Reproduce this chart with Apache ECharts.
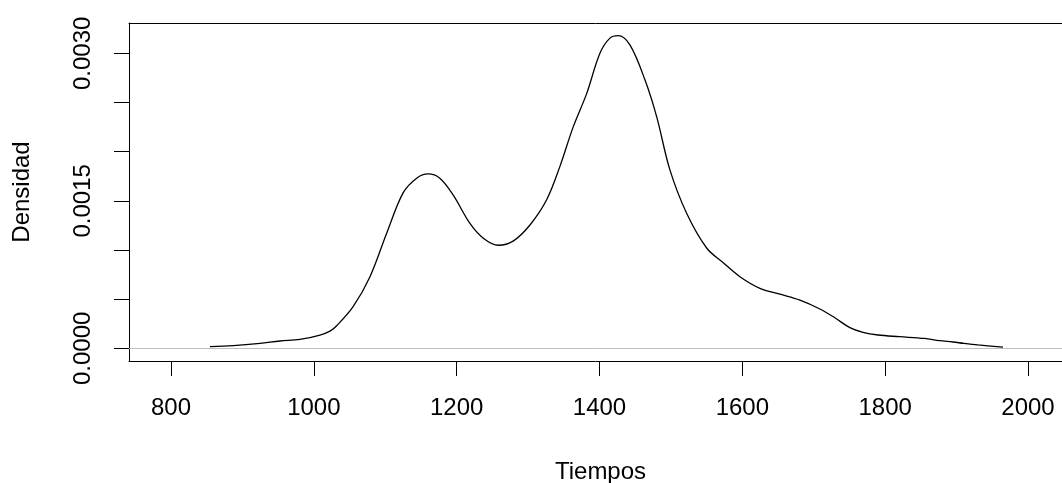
<!DOCTYPE html>
<html>
<head>
<meta charset="utf-8">
<script src="https://cdn.jsdelivr.net/npm/echarts@6/dist/echarts.min.js"></script>
<style>
html,body{margin:0;padding:0;background:#fff;}
#c{width:1062px;height:483px;}
</style>
</head>
<body>
<div id="c"></div>
<script>
// Data
const tiempos = [854.6, 887, 924.6, 952.6, 980.6, 1008.6, 1022.6, 1032, 1055, 1078.6, 1102, 1125, 1144, 1160, 1176.4, 1195, 1218.6, 1237.3, 1258.3, 1279, 1302.6, 1326, 1344.6, 1363.3, 1382, 1400.6, 1414.6, 1426.3, 1442.6, 1463.6, 1480, 1498.6, 1522, 1550, 1573.3, 1596.6, 1624.6, 1652.6, 1680.6, 1708.6, 1729.6, 1750.6, 1769, 1790, 1820, 1855, 1876, 1895, 1910, 1930, 1965];
const densidad = [0.000016, 0.000027, 0.00005, 0.000074, 0.00009, 0.000135, 0.000175, 0.00023, 0.000423, 0.000728, 0.00117, 0.00158, 0.00173, 0.001773, 0.00173, 0.00156, 0.00127, 0.00112, 0.001048, 0.00109, 0.001254, 0.00151, 0.00185, 0.002254, 0.00259, 0.0030, 0.003154, 0.00318, 0.003085, 0.00273, 0.002356, 0.001814, 0.001373, 0.00102, 0.00087, 0.000728, 0.00061, 0.00055, 0.00049, 0.0004, 0.00031, 0.00021, 0.000162, 0.000135, 0.000118, 0.0001, 0.000077, 0.000064, 0.00005, 0.000034, 0.000012];
const xTicks = [800, 1000, 1200, 1400, 1600, 1800, 2000];
const yTicks = [0, 0.0005, 0.001, 0.0015, 0.002, 0.0025, 0.003];
const yLabels = [0, 0.0015, 0.003];
const xName = 'Tiempos';
const yName = 'Densidad';

const FONT = '"Liberation Sans", Arial, sans-serif';
const X_MIN = 741.19, X_MAX = 2047.6;
const chart = echarts.init(document.getElementById('c'), null, {renderer: 'canvas'});
chart.setOption({
  backgroundColor: '#ffffff',
  animation: false,
  grid: {left: 129, top: 23, bottom: 122, right: 0, show: false, containLabel: false, outerBoundsMode: 'none'},
  xAxis: [{
    type: 'value', min: X_MIN, max: X_MAX,
    name: xName, nameLocation: 'middle', nameGap: 99,
    nameTextStyle: {fontFamily: FONT, fontSize: 24, color: '#000', padding: [0, 0, 0, 10]},
    axisLine: {show: true, onZero: false, lineStyle: {color: '#000', width: 1}},
    axisTick: {show: true, inside: false, length: 15, lineStyle: {color: '#000', width: 1}, customValues: xTicks},
    axisLabel: {show: true, margin: 35, fontFamily: FONT, fontSize: 24, color: '#000', customValues: xTicks, formatter: v => String(v)},
    splitLine: {show: false}
  }, {
    type: 'value', min: X_MIN, max: X_MAX, position: 'top',
    axisLine: {show: true, onZero: false, lineStyle: {color: '#000', width: 1}},
    axisTick: {show: false}, axisLabel: {show: false}, splitLine: {show: false}
  }],
  yAxis: {
    type: 'value', min: -0.0001292, max: 0.003308,
    name: yName, nameLocation: 'middle', nameGap: 95,
    nameTextStyle: {fontFamily: FONT, fontSize: 24, color: '#000'},
    axisLine: {show: true, onZero: false, lineStyle: {color: '#000', width: 1}},
    axisTick: {show: true, inside: false, length: 15, lineStyle: {color: '#000', width: 1}, customValues: yTicks},
    axisLabel: {show: true, rotate: 90, margin: 34, fontFamily: FONT, fontSize: 24, color: '#000', customValues: yLabels, formatter: v => v.toFixed(4)},
    splitLine: {show: false}
  },
  series: [{
    type: 'line',
    xAxisIndex: 0,
    data: tiempos.map((t, i) => [t, densidad[i]]),
    smooth: 0.35,
    showSymbol: false,
    symbol: 'none',
    lineStyle: {color: '#000', width: 1.3},
    markLine: {
      silent: true, symbol: 'none', label: {show: false},
      lineStyle: {color: '#bebebe', width: 1, type: 'solid'},
      data: [{yAxis: 0}]
    },
    z: 3
  }]
});
</script>
</body>
</html>
